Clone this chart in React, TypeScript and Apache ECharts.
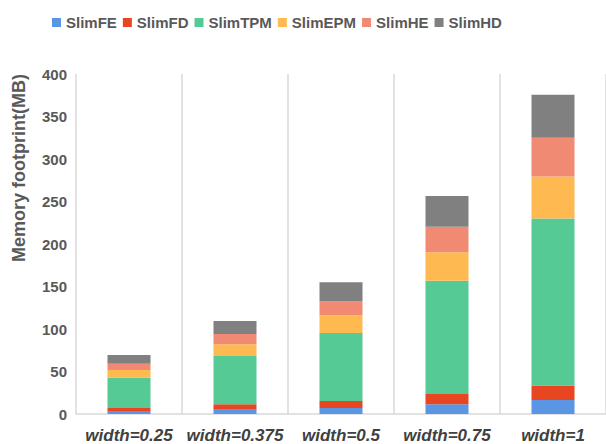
import React, { useEffect, useRef } from "react";
import * as echarts from "echarts";

const categories = ["width=0.25", "width=0.375", "width=0.5", "width=0.75", "width=1"];
const seriesNames = ["SlimFE", "SlimFD", "SlimTPM", "SlimEPM", "SlimHE", "SlimHD"];
const slimFE = [3.5, 5.1, 7.1, 11.4, 16.5];
const slimFD = [3.6, 6.3, 8.2, 12.1, 17];
const slimTPM = [35.6, 56.8, 80, 133.4, 196.5];
const slimEPM = [9.1, 13.8, 20.8, 33.3, 49.5];
const slimHE = [7.4, 12.1, 16.4, 30.2, 45.5];
const slimHD = [10.2, 15.3, 22.4, 36.1, 50.5];
const colors = ["#5B96E4", "#E84521", "#55CA95", "#FFB951", "#F08A73", "#808080"];
const yAxisTitle = "Memory footprint(MB)";

const FONT = "'Liberation Sans', Arial, sans-serif";

export default function App() {
  const ref = useRef<HTMLDivElement>(null);
  useEffect(() => {
    if (!ref.current) return;
    const chart = echarts.init(ref.current, undefined, { renderer: "svg" });
    const values = [slimFE, slimFD, slimTPM, slimEPM, slimHE, slimHD];
    chart.setOption({
      animation: false,
      color: colors,
      textStyle: { fontFamily: FONT },
      legend: {
        data: seriesNames,
        left: 47,
        top: 10,
        itemWidth: 9,
        itemHeight: 9,
        itemGap: 6,
        icon: "rect",
        textStyle: { fontSize: 15, fontWeight: "bold", color: "#595959", fontFamily: FONT },
      },
      graphic: [
        {
          type: "text",
          x: 19,
          y: 168,
          rotation: Math.PI / 2,
          style: {
            text: yAxisTitle,
            fontSize: 18,
            fontWeight: "bold",
            fill: "#595959",
            fontFamily: FONT,
            align: "center",
            verticalAlign: "middle",
          },
        },
      ],
      grid: { left: 76, right: -4, top: 74, bottom: 30, containLabel: false },
      xAxis: {
        type: "category",
        data: categories,
        axisLine: { show: true, lineStyle: { color: "#d9d9d9", width: 1.5 } },
        axisTick: { show: false },
        splitLine: { show: true, interval: 0, lineStyle: { color: "#d9d9d9", width: 1.5 } },
        axisLabel: {
          interval: 0,
          fontSize: 17,
          fontWeight: "bold",
          fontStyle: "italic",
          color: "#404040",
          margin: 13,
          fontFamily: FONT,
        },
      },
      yAxis: {
        type: "value",
        min: 0,
        max: 400,
        interval: 50,
        axisLine: { show: false },
        axisTick: { show: false },
        splitLine: { show: false },
        axisLabel: { fontSize: 15, fontWeight: "bold", color: "#595959", margin: 9, fontFamily: FONT },
      },
      series: seriesNames.map((name, i) => ({
        name,
        type: "bar",
        stack: "total",
        barWidth: 43,
        data: values[i],
        itemStyle: { color: colors[i] },
      })),
    });
    return () => chart.dispose();
  }, []);
  return (
    <div
      ref={ref}
      style={{ position: "absolute", left: 0, top: 0, width: 606, height: 444, background: "#fff" }}
    />
  );
}
